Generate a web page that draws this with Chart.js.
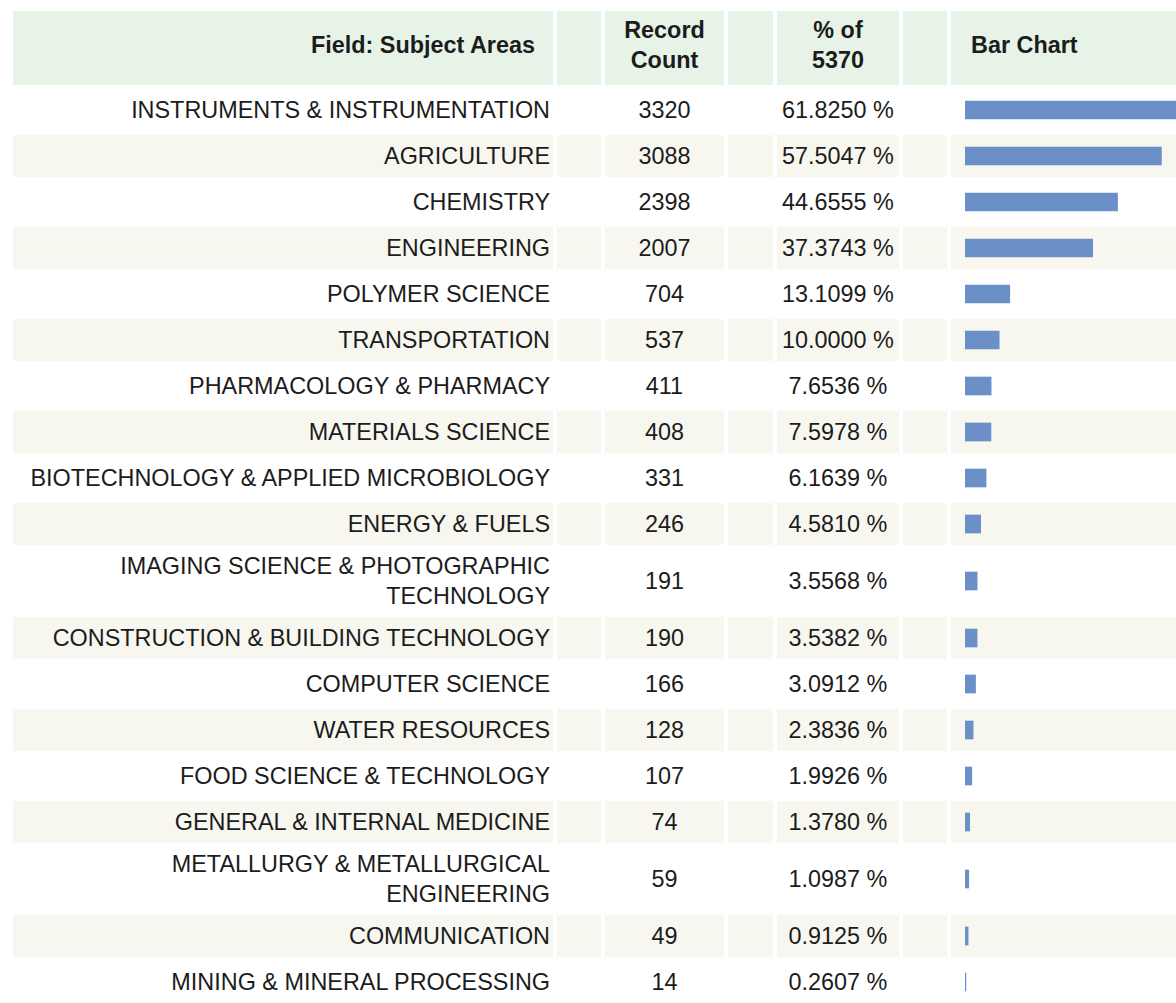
<!DOCTYPE html>
<html>
<head>
<meta charset="utf-8">
<script src="https://cdn.jsdelivr.net/npm/chart.js@4.4.0/dist/chart.umd.min.js"></script>
<style>
  html, body { margin: 0; padding: 0; background: #fff; overflow: hidden; width: 1176px; height: 1003px; }
  table { position: absolute; left: 9px; top: 7px; width: 1189px; border-collapse: separate; border-spacing: 4px; table-layout: fixed;
          font-family: "Liberation Sans", Arial, sans-serif; color: #1c1c1c; }
  td { padding: 0; box-sizing: border-box; vertical-align: middle; }
  th { padding: 0 0 6px 0; box-sizing: border-box; background: #e7f3e7; font-size: 23.4px; font-weight: bold; vertical-align: middle; line-height: 30px; }
  tr.head { height: 74px; }
  tr.row { height: 42px; }
  tr.tall { height: 64px; }
  tr.alt td { background: #f7f7f0; }
  td.subj { text-align: right; padding: 0 3px 0 4px; font-size: 23.4px; line-height: 30px; }
  td.num { text-align: center; font-size: 23.4px; }
  td.bar canvas { display: block; }
</style>
</head>
<body>
<table id="tbl">
  <colgroup>
    <col style="width:540px"><col style="width:44px"><col style="width:119px"><col style="width:45px">
    <col style="width:122px"><col style="width:44px"><col style="width:243px">
  </colgroup>
  <tr class="head">
    <th style="text-align:right;padding-right:18px">Field: Subject Areas</th>
    <th></th>
    <th>Record<br>Count</th>
    <th></th>
    <th>% of<br>5370</th>
    <th></th>
    <th style="text-align:left;padding-left:20px">Bar Chart</th>
  </tr>
</table>
<script>
var subjects = [
  "INSTRUMENTS & INSTRUMENTATION",
  "AGRICULTURE",
  "CHEMISTRY",
  "ENGINEERING",
  "POLYMER SCIENCE",
  "TRANSPORTATION",
  "PHARMACOLOGY & PHARMACY",
  "MATERIALS SCIENCE",
  "BIOTECHNOLOGY & APPLIED MICROBIOLOGY",
  "ENERGY & FUELS",
  "IMAGING SCIENCE & PHOTOGRAPHIC TECHNOLOGY",
  "CONSTRUCTION & BUILDING TECHNOLOGY",
  "COMPUTER SCIENCE",
  "WATER RESOURCES",
  "FOOD SCIENCE & TECHNOLOGY",
  "GENERAL & INTERNAL MEDICINE",
  "METALLURGY & METALLURGICAL ENGINEERING",
  "COMMUNICATION",
  "MINING & MINERAL PROCESSING"
];
var counts = [3320, 3088, 2398, 2007, 704, 537, 411, 408, 331, 246, 191, 190, 166, 128, 107, 74, 59, 49, 14];
var percents = [61.8250, 57.5047, 44.6555, 37.3743, 13.1099, 10.0000, 7.6536, 7.5978, 6.1639, 4.5810,
                3.5568, 3.5382, 3.0912, 2.3836, 1.9926, 1.3780, 1.0987, 0.9125, 0.2607];
var twoLine = [10, 16];   // rows whose label wraps

var barColor = '#6b90c8';
var xMax = 3600;

var tbl = document.getElementById('tbl');
for (var i in subjects) {
  var tall = twoLine.indexOf(+i) >= 0;
  var tr = document.createElement('tr');
  tr.className = (tall ? 'tall' : 'row') + (i % 2 == 1 ? ' alt' : '');
  tr.innerHTML = "<td class='subj'>" + subjects[i].replace(/&/g, '&amp;') + "</td><td></td>" +
                 "<td class='num'>" + counts[i] + "</td><td></td>" +
                 "<td class='num'>" + percents[i].toFixed(4) + " %</td><td></td>" +
                 "<td class='bar'><canvas width='243' height='" + (tall ? 64 : 42) + "'></canvas></td>";
  tbl.appendChild(tr);

  var ctx = tr.querySelector('canvas');
  new Chart(ctx, {
    type: 'bar',
    data: {
      labels: [subjects[i]],
      datasets: [{
        data: [counts[i]],
        backgroundColor: barColor,
        borderWidth: 0,
        barThickness: 18
      }]
    },
    options: {
      indexAxis: 'y',
      responsive: false,
      animation: false,
      layout: { padding: { left: 14, right: 0, top: 0, bottom: 0 } },
      plugins: { legend: { display: false }, tooltip: { enabled: false } },
      scales: {
        x: { display: false, min: 0, max: xMax },
        y: { display: false }
      }
    }
  });
}
</script>
</body>
</html>
